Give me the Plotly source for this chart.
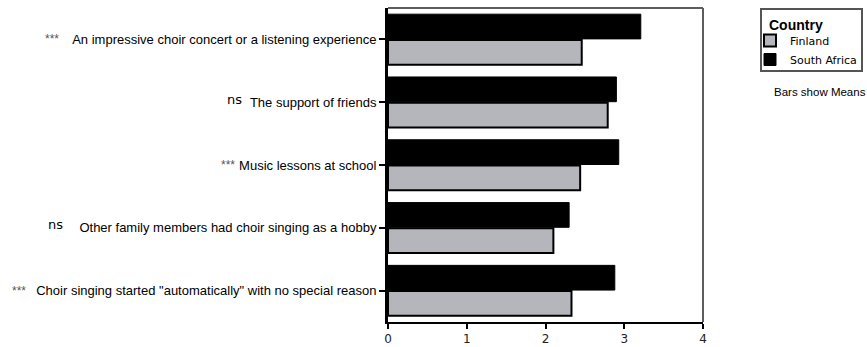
import plotly.graph_objects as go

# Reasons for starting choir singing, listed top to bottom
reasons = [
    "An impressive choir concert or a listening experience",
    "The support of friends",
    "Music lessons at school",
    "Other family members had choir singing as a hobby",
    "Choir singing started \"automatically\" with no special reason",
]
significance = ["***", "ns", "***", "ns", "***"]
finland_means = [2.46, 2.79, 2.44, 2.10, 2.33]
south_africa_means = [3.21, 2.90, 2.93, 2.30, 2.88]
x_ticks = [0, 1, 2, 3, 4]

W, H = 867, 347
L, R, T, B = 388, 164, 8, 25
plot_w = W - L - R
plot_h = H - T - B


def px_x(px):
    """Horizontal pixel position -> paper coordinate."""
    return (px - L) / plot_w


def px_y(py):
    """Vertical pixel position (from top) -> paper coordinate."""
    return 1 - (py - T) / plot_h


# Plotly stacks categories bottom-up, so order them bottom-to-top
order = list(reversed(reasons))

fig = go.Figure()
fig.add_trace(go.Bar(
    name="Finland", y=reasons, x=finland_means, orientation="h",
    marker=dict(color="#b4b6bb", line=dict(color="#000000", width=2)),
))
fig.add_trace(go.Bar(
    name="South Africa", y=reasons, x=south_africa_means, orientation="h",
    marker=dict(color="#000000", line=dict(color="#000000", width=1)),
))

# significance markers placed left of each category label
sig_right_px = {0: 61, 1: 244, 2: 237, 3: 65, 4: 28}
for i, (reason, sig) in enumerate(zip(reasons, significance)):
    if sig == "ns":
        font = dict(family="DejaVu Sans", size=13, color="#000000")
        yshift = 3
    else:
        font = dict(family="Liberation Sans", size=12, color="#555555")
        yshift = 0
    fig.add_annotation(
        x=px_x(sig_right_px[i]), xref="paper", y=reason, yref="y",
        text=sig, showarrow=False, xanchor="right", yanchor="middle",
        font=font, yshift=yshift,
    )

# legend frame and heading
fig.add_shape(type="rect", xref="paper", yref="paper",
              x0=px_x(761), x1=px_x(862), y0=px_y(71), y1=px_y(9),
              line=dict(color="#555555", width=2), fillcolor="rgba(0,0,0,0)")
fig.add_annotation(
    x=px_x(767), xref="paper", y=px_y(25), yref="paper",
    text="<b>Country</b>", showarrow=False, xanchor="left", yanchor="middle",
    font=dict(family="Liberation Sans", size=14, color="#000000"),
)

fig.add_annotation(
    x=px_x(772), xref="paper", y=px_y(92), yref="paper",
    text="Bars show Means", showarrow=False, xanchor="left", yanchor="middle",
    font=dict(family="Liberation Sans", size=11.5, color="#000000"),
)

# gray frame on top and right of the plotting area
fig.add_shape(type="line", xref="paper", yref="paper", x0=0, x1=1, y0=1, y1=1,
              line=dict(color="#5c5c5c", width=2))
fig.add_shape(type="line", xref="paper", yref="paper", x0=1, x1=1, y0=0, y1=1,
              line=dict(color="#5c5c5c", width=2))

fig.update_layout(
    width=W, height=H,
    margin=dict(l=L, r=R, t=T, b=B, pad=0, autoexpand=False),
    paper_bgcolor="white", plot_bgcolor="white",
    barmode="group", bargap=0.18, bargroupgap=0.04,
    font=dict(family="Liberation Sans", size=11, color="#000000"),
    legend=dict(
        xref="container", yref="container",
        x=750 / W, y=1 - 26 / H, xanchor="left", yanchor="top",
        borderwidth=0, bgcolor="rgba(0,0,0,0)",
        font=dict(family="DejaVu Sans", size=11, color="#000000"),
        tracegroupgap=0, itemwidth=30,
    ),
    xaxis=dict(
        range=[0, 4], tickvals=x_ticks, ticktext=[str(v) for v in x_ticks],
        showgrid=False, zeroline=False, automargin=False,
        showline=True, linecolor="#000000", linewidth=2,
        ticks="outside", ticklen=5, tickwidth=2, tickcolor="#000000",
        tickfont=dict(family="DejaVu Sans", size=12, color="#222222"),
    ),
    yaxis=dict(
        categoryorder="array", categoryarray=order,
        showgrid=False, zeroline=False, automargin=False,
        showline=True, linecolor="#000000", linewidth=3,
        ticks="outside", ticklen=6, tickwidth=2, tickcolor="#000000",
        tickfont=dict(family="Liberation Sans", size=13, color="#000000"),
    ),
)

fig.write_html("out.html")
